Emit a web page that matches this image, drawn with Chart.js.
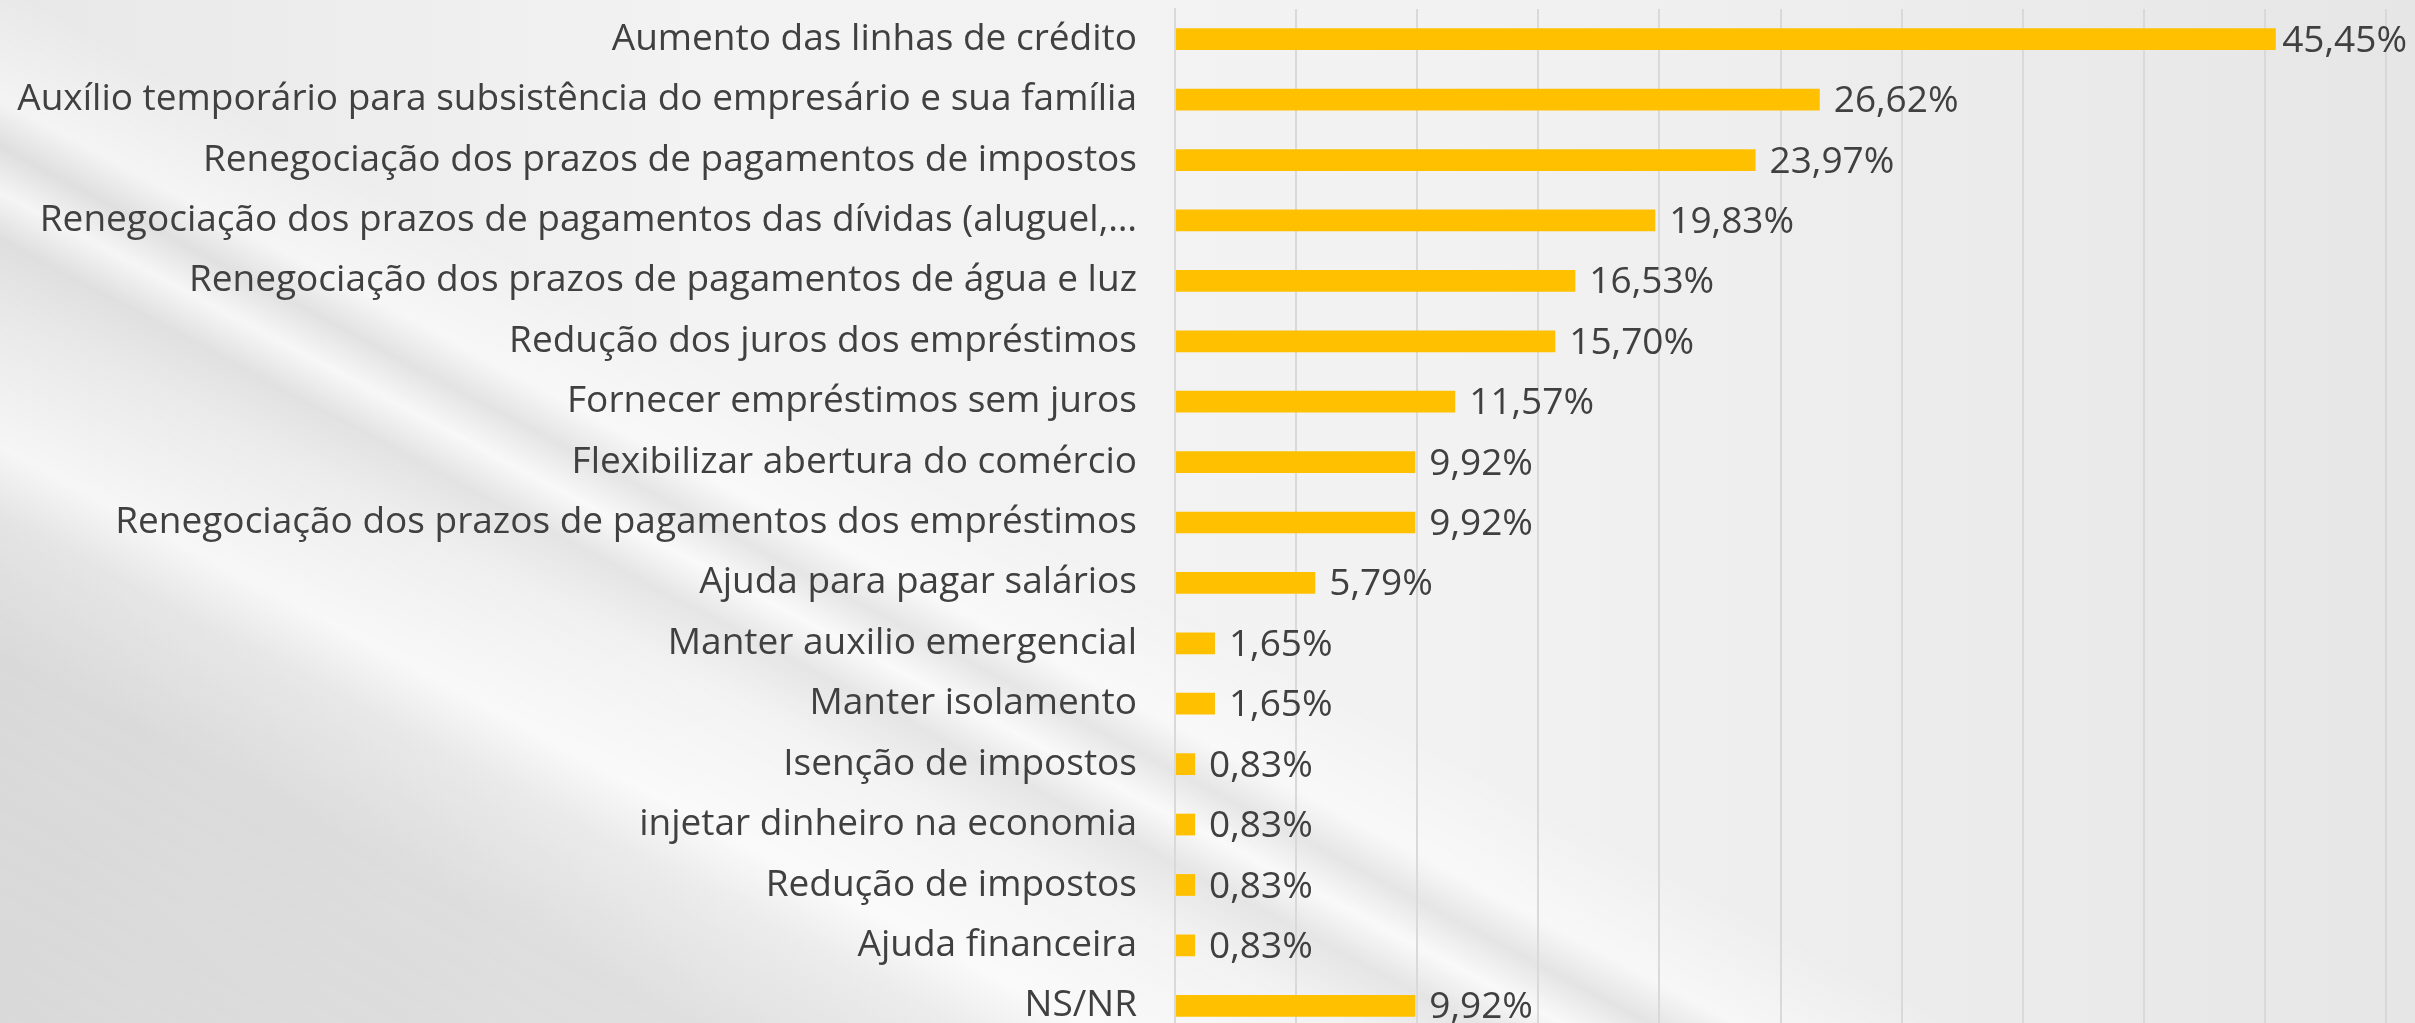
<!DOCTYPE html>
<html>
<head>
<meta charset="utf-8">
<script src="https://cdn.jsdelivr.net/npm/chart.js@4"></script>
<style>
  html, body {
    margin: 0;
    padding: 0;
    width: 2415px;
    height: 1023px;
    overflow: hidden;
  }
  body {
    background:
      linear-gradient(28deg,
        rgba(195,195,195,0.4) 0%,
        rgba(200,200,200,0.45) 16%,
        rgba(220,220,220,0.3) 22%,
        rgba(255,255,255,0.6) 25%,
        rgba(255,255,255,0) 31%,
        rgba(205,205,205,0.35) 34%,
        rgba(255,255,255,0.55) 36%,
        rgba(205,205,205,0.35) 38%,
        rgba(255,255,255,0.5) 40%,
        rgba(255,255,255,0) 45%),
      linear-gradient(90deg, #e8e8e8 0%, #f3f3f3 30%, #f2f2f2 60%, #e6e6e6 100%);
  }
  #wrap {
    position: absolute;
    left: 0;
    top: 0;
    width: 2415px;
    height: 1036px;
  }
</style>
</head>
<body>
<div id="wrap"><canvas id="chartCanvas"></canvas></div>
<script>
const categories = [
  "Aumento das linhas de crédito",
  "Auxílio temporário para subsistência do empresário e sua família",
  "Renegociação dos prazos de pagamentos de impostos",
  "Renegociação dos prazos de pagamentos das dívidas (aluguel,…",
  "Renegociação dos prazos de pagamentos de água e luz",
  "Redução dos juros dos empréstimos",
  "Fornecer empréstimos sem juros",
  "Flexibilizar abertura do comércio",
  "Renegociação dos prazos de pagamentos dos empréstimos",
  "Ajuda para pagar salários",
  "Manter auxilio emergencial",
  "Manter isolamento",
  "Isenção de impostos",
  "injetar dinheiro na economia",
  "Redução de impostos",
  "Ajuda financeira",
  "NS/NR"
];
const values = [45.45, 26.62, 23.97, 19.83, 16.53, 15.70, 11.57, 9.92, 9.92, 5.79, 1.65, 1.65, 0.83, 0.83, 0.83, 0.83, 9.92];

const textColor = "#404040";
const fontFamily = "'Open Sans', 'DejaVu Sans', sans-serif";
const fontSize = 37;

// draws "45,45%" style labels after each bar
const valueLabels = {
  id: "valueLabels",
  afterDatasetsDraw(chart) {
    const ctx = chart.ctx;
    const meta = chart.getDatasetMeta(0);
    ctx.save();
    ctx.fillStyle = textColor;
    ctx.font = fontSize + "px " + fontFamily;
    ctx.textAlign = "left";
    ctx.textBaseline = "middle";
    meta.data.forEach((bar, i) => {
      const txt = values[i].toFixed(2).replace(".", ",") + "%";
      const w = ctx.measureText(txt).width;
      const x = Math.min(bar.x + 14, chart.width - 8 - w);
      ctx.fillText(txt, x, bar.y + 2);
    });
    ctx.restore();
  }
};

const ctx = document.getElementById("chartCanvas");
new Chart(ctx, {
  type: "bar",
  data: {
    labels: categories,
    datasets: [{
      data: values,
      backgroundColor: "#FFC000",
      borderWidth: 0,
      barPercentage: 0.36,
      categoryPercentage: 1
    }]
  },
  options: {
    indexAxis: "y",
    responsive: true,
    maintainAspectRatio: false,
    animation: false,
    layout: { padding: { top: 9, right: 29, bottom: 0, left: 0 } },
    plugins: {
      legend: { display: false },
      tooltip: { enabled: false }
    },
    scales: {
      x: {
        min: 0,
        max: 50,
        ticks: { display: false, stepSize: 5 },
        grid: { color: "#d9d9d9", lineWidth: 2, drawTicks: false },
        border: { display: false }
      },
      y: {
        ticks: {
          color: textColor,
          font: { family: fontFamily, size: fontSize },
          padding: 38,
          autoSkip: false
        },
        grid: { display: false, drawTicks: false },
        border: { display: true, color: "#d9d9d9", width: 2 },
        afterFit(scale) {
          scale.width = 1175;
          scale.paddingTop = 0;
          scale.paddingBottom = 0;
        }
      }
    }
  },
  plugins: [valueLabels]
});
</script>
</body>
</html>
